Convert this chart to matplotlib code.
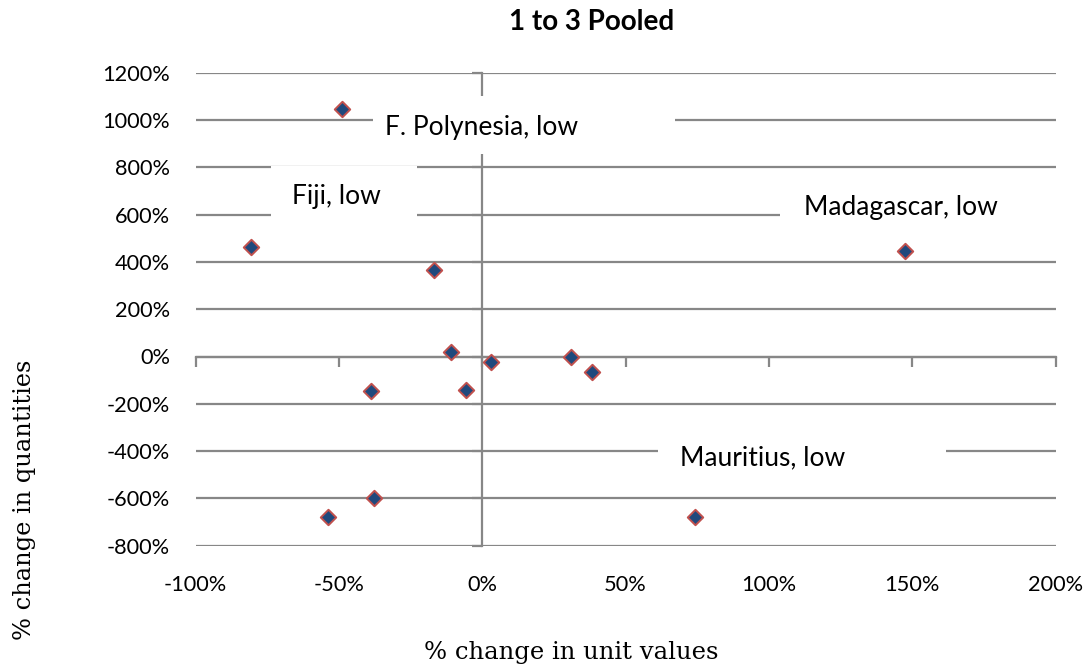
import matplotlib
matplotlib.use("Agg")
import matplotlib.pyplot as plt
from matplotlib.patches import Rectangle
from matplotlib.ticker import FuncFormatter

# ---- data (percent) ----
unit_value_change = [-48.8, -80.8, -16.9, -10.9, 3.0, -38.8, -5.7, -37.8, -53.7, 31.0, 38.2, 74.2, 147.4]
quantity_change = [1047, 465, 367, 21, -25, -146, -141, -600, -678, 0, -65, -678, 447]

label_texts = ["F. Polynesia, low", "Fiji, low", "Madagascar, low", "Mauritius, low"]

x_ticks = [-100, -50, 0, 50, 100, 150, 200]
y_ticks = [-800, -600, -400, -200, 0, 200, 400, 600, 800, 1000, 1200]

title = "1 to 3 Pooled"
x_title = "% change in unit values"
y_title = "% change in quantities"

# ---- figure ----
fig = plt.figure(figsize=(10.91, 6.72), dpi=100)
ax = fig.add_axes([195.7 / 1091, 1 - 545.7 / 672, (1055.5 - 195.7) / 1091, (545.7 - 72.7) / 672])

grid_col = "#878787"
ax.set_xlim(x_ticks[0], x_ticks[-1])
ax.set_ylim(y_ticks[0], y_ticks[-1])
ax.set_xticks(x_ticks)
ax.set_yticks(y_ticks)
pct = FuncFormatter(lambda v, p: f"{v:.0f}%")
ax.xaxis.set_major_formatter(pct)
ax.yaxis.set_major_formatter(pct)
ax.tick_params(length=0, labelsize=15.7, colors="black")
ax.tick_params(axis="y", pad=18.5)
ax.tick_params(axis="x", pad=21)
for lab in ax.get_xticklabels() + ax.get_yticklabels():
    lab.set_fontfamily("Lato")
for s in ax.spines.values():
    s.set_visible(False)
ax.grid(axis="y", color=grid_col, linewidth=1.6)
ax.set_axisbelow(True)

# axes crossing at zero
sx = ax.secondary_xaxis(0, transform=ax.transData)
sx.set_xticks(x_ticks)
sx.tick_params(direction="out", length=7, width=1.6, color=grid_col, labelbottom=False)
sx.spines["bottom"].set_color(grid_col)
sx.spines["bottom"].set_linewidth(1.6)
sy = ax.secondary_yaxis(0, transform=ax.transData)
sy.set_yticks(y_ticks)
sy.tick_params(direction="out", length=7, width=1.6, color=grid_col, labelleft=False)
sy.spines["left"].set_color(grid_col)
sy.spines["left"].set_linewidth(1.6)

# points
ax.scatter(unit_value_change, quantity_change, marker="D", s=62, facecolor="#1F497D",
           edgecolor="#C0504D", linewidth=1.4, zorder=3, clip_on=False)

# data labels with white boxes
label_boxes = [(-38.2, 856, 67.3, 1103), (-73.8, 548, -22.9, 806), (103.8, 510, 200, 745), (61.2, -556, 161.8, -302)]
label_pos = [(-0.3, 970), (-51.0, 676), (145.9, 628), (97.9, -428)]
for txt, (x0, y0, x1, y1), (tx, ty) in zip(label_texts, label_boxes, label_pos):
    ax.add_patch(Rectangle((x0, y0), x1 - x0, y1 - y0, facecolor="white", edgecolor="none", zorder=4))
    ax.text(tx, ty, txt, ha="center", va="center", fontsize=19, family="Lato", zorder=5)

fig.text(591.5 / 1091, 1 - 22 / 672, title, ha="center", va="center", fontsize=20,
         fontweight="bold", family="Lato")
fig.text(571.5 / 1091, 1 - 652 / 672, x_title, ha="center", va="center", fontsize=17.5,
         family="DejaVu Serif")
fig.text(25 / 1091, 1 - 500 / 672, y_title, ha="center", va="center", rotation=90,
         fontsize=17.4, family="DejaVu Serif")

fig.savefig("out.png", dpi=100)
